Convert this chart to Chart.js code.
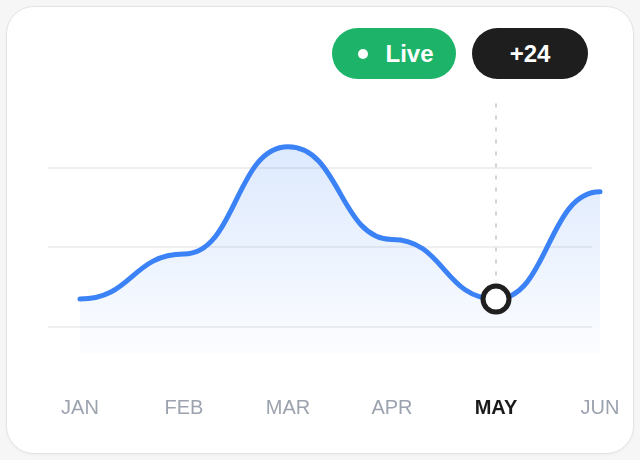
<!DOCTYPE html>
<html>
<head>
<meta charset="utf-8">
<script src="https://cdn.jsdelivr.net/npm/chart.js@4"></script>
<style>
  html, body { margin: 0; padding: 0; background: #f6f6f7; }
  body { width: 640px; height: 460px; position: relative; overflow: hidden; font-family: "Liberation Sans", Arial, sans-serif; }
  .card { position: absolute; left: 6px; top: 6px; width: 626px; height: 446px; border: 1px solid #e4e4e7; border-radius: 28px; background: #fff; box-shadow: 0 1px 3px rgba(0,0,0,.04); }
  canvas { position: absolute; left: 0; top: 0; }
  .pill { position: absolute; top: 28px; height: 51px; border-radius: 26px; color: #fff; font-weight: 700; font-size: 24px; display: flex; align-items: center; justify-content: center; box-sizing: border-box; }
  .live { left: 332px; width: 124px; background: #1db46a; padding-left: 4px; }
  .live .dot { width: 10px; height: 10px; border-radius: 50%; background: #fff; margin-right: 17px; }
  .count { left: 472px; width: 116px; background: #1e1e1e; }
</style>
</head>
<body>
<div class="card"></div>
<canvas id="chart" width="640" height="460"></canvas>
<div class="pill live"><span class="dot"></span>Live</div>
<div class="pill count">+24</div>
<script>
const months = ['JAN', 'FEB', 'MAR', 'APR', 'MAY', 'JUN'];
const visitors = [20.5, 37.5, 78, 43, 20.5, 61];
const gridValues = [10, 40, 70];
const activeIndex = 4; // MAY is highlighted

// horizontal tangent at every point (svg-style smooth path)
const flatCurve = {
  id: 'flatCurve',
  afterDatasetsUpdate(chart) {
    const meta = chart.getDatasetMeta(0);
    const pts = meta.data;
    pts.forEach((p, i) => {
      const prev = pts[i - 1], next = pts[i + 1];
      const dl = prev ? (p.x - prev.x) / 2 : 0;
      const dr = next ? (next.x - p.x) / 2 : 0;
      p.cp1x = p.x - dl; p.cp1y = p.y;
      p.cp2x = p.x + dr; p.cp2y = p.y;
    });
    meta.dataset._pointsUpdated = true;
  }
};

// soft grid lines + dotted marker above the active month
const guides = {
  id: 'guides',
  beforeDatasetsDraw(chart) {
    const { ctx, chartArea, scales: { y } } = chart;
    ctx.save();
    ctx.strokeStyle = '#efeff1';
    ctx.lineWidth = 2;
    gridValues.forEach(v => {
      const py = Math.round(y.getPixelForValue(v));
      ctx.beginPath();
      ctx.moveTo(chartArea.left - 32, py);
      ctx.lineTo(chartArea.right - 8, py);
      ctx.stroke();
    });
    const pt = chart.getDatasetMeta(0).data[activeIndex];
    ctx.strokeStyle = '#cdd4dc';
    ctx.setLineDash([4, 8]);
    ctx.beginPath();
    ctx.moveTo(pt.x, chartArea.top + 15);
    ctx.lineTo(pt.x, pt.y);
    ctx.stroke();
    ctx.restore();
  }
};

new Chart(document.getElementById('chart'), {
  type: 'line',
  data: {
    labels: months,
    datasets: [{
      data: visitors,
      borderColor: '#3b82f6',
      borderWidth: 5,
      borderCapStyle: 'round',
      borderJoinStyle: 'round',
      tension: 0.4,
      fill: 'start',
      backgroundColor(c) {
        const { ctx, chartArea } = c.chart;
        if (!chartArea) return 'rgba(59,130,246,.15)';
        const g = ctx.createLinearGradient(0, chartArea.top, 0, chartArea.bottom);
        g.addColorStop(0, 'rgba(59,130,246,.22)');
        g.addColorStop(1, 'rgba(59,130,246,.02)');
        return g;
      },
      pointRadius: c => c.dataIndex === activeIndex ? 13 : 0,
      pointBorderWidth: 5,
      pointBorderColor: '#1f1f1f',
      pointBackgroundColor: '#fff',
      clip: false
    }]
  },
  options: {
    responsive: false,
    animation: false,
    events: [],
    layout: { padding: { left: 80, right: 40, top: 88.5, bottom: 0 } },
    plugins: { legend: { display: false }, tooltip: { enabled: false } },
    scales: {
      x: {
        grid: { display: false, drawTicks: false },
        border: { display: false },
        afterFit(s) {
          s.height = 106.6;
          s.paddingLeft = 0;
          s.paddingRight = 0;
        },
        ticks: {
          padding: 43,
          autoSkip: false,
          maxRotation: 0,
          color: c => c.index === activeIndex ? '#1a1a1a' : '#9ca3af',
          font: c => ({ family: '"Liberation Sans", Arial, sans-serif', size: 20, weight: c.index === activeIndex ? 'bold' : 'normal' })
        }
      },
      y: { display: false, min: 0, max: 100 }
    }
  },
  plugins: [flatCurve, guides]
});
</script>
</body>
</html>
